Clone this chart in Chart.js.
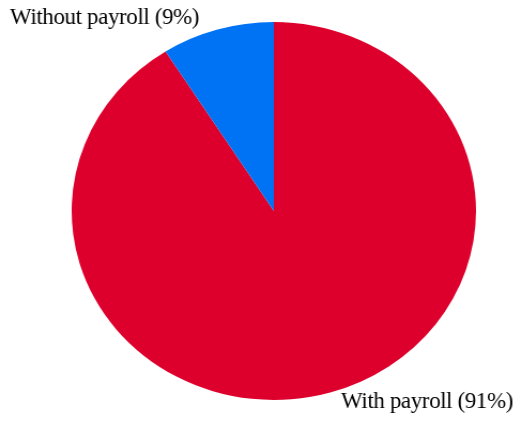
<!DOCTYPE html>
<html>
<head>
<meta charset="utf-8">
<script src="https://cdn.jsdelivr.net/npm/chart.js@4/dist/chart.umd.min.js"></script>
<style>
  html, body { margin: 0; padding: 0; background: #fff; overflow: hidden; }
  #wrap { position: absolute; left: 0; top: 0; width: 488px; height: 421px;
          transform: scaleX(1.0697); transform-origin: 0 0; }
</style>
</head>
<body>
<div id="wrap"><canvas id="payrollChart" width="488" height="421"></canvas></div>
<script>
var categorias = ['With payroll', 'Without payroll'];
var porcentajes = [91, 9];
var colores = ['#dd002c', '#0073f5'];

var SX = 1.0697; // the pie is a bit wider than tall

// labels, drawn un-stretched
var etiquetas = {
    id: 'etiquetas',
    afterDraw: function(chart){
        var ctx = chart.ctx;
        ctx.save();
        ctx.scale(1 / SX, 1);
        ctx.fillStyle = '#000';
        ctx.font = '23px "Liberation Serif", "Times New Roman", serif';
        ctx.letterSpacing = '-0.4px';
        ctx.textBaseline = 'alphabetic';
        ctx.textAlign = 'left';
        ctx.fillText(categorias[1] + ' (' + porcentajes[1] + '%)', 10, 24);
        ctx.textAlign = 'right';
        ctx.fillText(categorias[0] + ' (' + porcentajes[0] + '%)', 513, 408);
        ctx.restore();
    }
};

var ctx = document.getElementById('payrollChart').getContext('2d');
var payrollChart = new Chart(ctx, {
    type: 'pie',
    data: {
        labels: categorias,
        datasets: [{
            data: porcentajes,
            backgroundColor: colores,
            borderWidth: 0
        }]
    },
    options: {
        responsive: false,
        animation: false,
        layout: { padding: { top: 22, bottom: 21, left: 67, right: 43 } },
        plugins: {
            legend: { display: false },
            tooltip: { enabled: false }
        }
    },
    plugins: [etiquetas]
});
</script>
</body>
</html>
